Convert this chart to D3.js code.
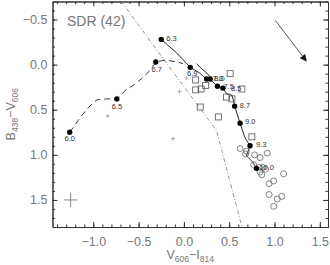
<!DOCTYPE html>
<html>
<head>
<meta charset="utf-8">
<script src="https://cdnjs.cloudflare.com/ajax/libs/d3/7.8.5/d3.min.js"></script>
<style>
  body { margin: 0; background: #fff; }
  svg { display: block; font-family: "Liberation Sans", Arial, sans-serif; }
  .axis path, .axis line { stroke: #333; }
  .axis text { fill: #777; font-size: 12.5px; }
</style>
</head>
<body>
<div id="chart"></div>
<script>
// Step 1.
// Data (x = V606-I814, y = B438-V606)

// filled dots with their log(age) labels
const ageLabels = ["6.0", "6.5", "6.7", "6.3", "6.9", "7.0", "8.0", "7.5", "8.5", "8.7", "9.0", "9.3", "10.0"];
const ageX = [-1.26, -0.74, -0.31, -0.25, 0.07, 0.25, 0.29, 0.37, 0.43, 0.56, 0.62, 0.73, 0.80];
const ageY = [0.75, 0.38, -0.03, -0.28, 0.03, 0.16, 0.16, 0.24, 0.26, 0.46, 0.65, 0.90, 1.15];

// dashed track (young part)
const dashedX = [-1.26, -1.14, -1.05, -0.96, -0.85, -0.74, -0.64, -0.56, -0.46, -0.37, -0.31, -0.21, -0.07, -0.01];
const dashedY = [0.75, 0.58, 0.47, 0.39, 0.38, 0.38, 0.28, 0.23, 0.15, 0.06, -0.03, -0.05, -0.03, -0.01];

// solid track
const solidX = [-0.25, -0.08, 0.07, 0.17, 0.25, 0.29, 0.37, 0.43, 0.47, 0.53, 0.55, 0.56, 0.62, 0.67, 0.71, 0.73, 0.69, 0.76, 0.80];
const solidY = [-0.28, -0.13, 0.03, 0.09, 0.16, 0.16, 0.24, 0.26, 0.32, 0.34, 0.41, 0.46, 0.65, 0.80, 0.87, 0.90, 1.01, 1.08, 1.15];

// short solid hook next to 6.9 - 7.0
const hookX = [0.14, 0.19, 0.26, 0.30];
const hookY = [-0.01, 0.04, 0.10, 0.15];

// dash-dot line
const dashDotX = [-0.69, -0.18, 0.36, 0.64];
const dashDotY = [-0.70, 0.00, 0.73, 1.80];

// reddening arrow
const arrowX = [1.01, 1.35];
const arrowY = [-0.49, -0.04];

// open squares
const squareX = [0.51, 0.13, 0.24, 0.13, 0.19, 0.64, 0.47, 0.53, 0.18, 0.38, 0.75];
const squareY = [0.10, 0.17, 0.23, 0.28, 0.27, 0.27, 0.36, 0.38, 0.47, 0.58, 0.80];

// open circles
const circleX = [0.62, 0.69, 0.68, 0.78, 0.84, 0.92, 0.77, 0.83, 0.87, 0.90, 0.84, 0.86, 1.10, 0.94, 0.99, 0.94, 1.03, 1.08, 0.99];
const circleY = [0.93, 0.96, 0.99, 1.00, 1.03, 0.98, 1.11, 1.14, 1.14, 1.16, 1.19, 1.22, 1.21, 1.32, 1.29, 1.44, 1.49, 1.46, 1.57];

// small plus markers
const plusX = [-0.84, 0.03, -0.05, -0.12];
const plusY = [0.57, 0.15, 0.30, 0.82];

// typical error bar
const errX = [-1.25];
const errY = [1.50];
const errDX = [0.075];
const errDY = [0.08];

const xMajor = [-1.0, -0.5, 0.0, 0.5, 1.0, 1.5];
const yMajor = [-0.5, 0.0, 0.5, 1.0, 1.5];

// Step 2.
// SVG and scales
const svgWidth = 330;
const svgHeight = 265;
const box = { left: 52.5, right: 328, top: 1.5, bottom: 227 };

const svg = d3.select("#chart")
  .append("svg")
  .attr("width", svgWidth)
  .attr("height", svgHeight);

const x = d3.scaleLinear().domain([-1.45, 1.59]).range([box.left, box.right]);
const y = d3.scaleLinear().domain([-0.7, 1.8]).range([box.top, box.bottom]);

const fmt = d3.format(".1f");
const xMinor = d3.range(-14, 16).map(d => d / 10);
const yMinor = d3.range(-7, 18).map(d => d / 10);

// major axes with labels (ticks point inward)
svg.append("g")
  .attr("class", "axis")
  .attr("transform", `translate(0, ${box.bottom})`)
  .call(d3.axisBottom(x).tickValues(xMajor).tickFormat(fmt).tickSize(-5).tickSizeOuter(0).tickPadding(10));

svg.append("g")
  .attr("class", "axis")
  .attr("transform", `translate(${box.left}, 0)`)
  .call(d3.axisLeft(y).tickValues(yMajor).tickFormat(fmt).tickSize(-5).tickSizeOuter(0).tickPadding(5));

svg.append("g")
  .attr("class", "axis")
  .attr("transform", `translate(0, ${box.top})`)
  .call(d3.axisTop(x).tickValues(xMajor).tickFormat("").tickSize(-5).tickSizeOuter(0));

svg.append("g")
  .attr("class", "axis")
  .attr("transform", `translate(${box.right}, 0)`)
  .call(d3.axisRight(y).tickValues(yMajor).tickFormat("").tickSize(-5).tickSizeOuter(0));

// minor ticks
svg.append("g").attr("class", "axis").attr("transform", `translate(0, ${box.bottom})`)
  .call(d3.axisBottom(x).tickValues(xMinor).tickFormat("").tickSize(-2.5).tickSizeOuter(0));
svg.append("g").attr("class", "axis").attr("transform", `translate(0, ${box.top})`)
  .call(d3.axisTop(x).tickValues(xMinor).tickFormat("").tickSize(-2.5).tickSizeOuter(0));
svg.append("g").attr("class", "axis").attr("transform", `translate(${box.left}, 0)`)
  .call(d3.axisLeft(y).tickValues(yMinor).tickFormat("").tickSize(-2.5).tickSizeOuter(0));
svg.append("g").attr("class", "axis").attr("transform", `translate(${box.right}, 0)`)
  .call(d3.axisRight(y).tickValues(yMinor).tickFormat("").tickSize(-2.5).tickSizeOuter(0));

// Step 3.
// lines
const line = d3.line().x(d => x(d[0])).y(d => y(d[1]));

svg.append("path")
  .datum(d3.zip(dashDotX, dashDotY))
  .attr("d", line)
  .attr("fill", "none")
  .attr("stroke", "#888")
  .attr("stroke-width", 0.9)
  .attr("stroke-dasharray", "4,2,1,2");

svg.append("path")
  .datum(d3.zip(dashedX, dashedY))
  .attr("d", line)
  .attr("fill", "none")
  .attr("stroke", "#222")
  .attr("stroke-width", 0.9)
  .attr("stroke-dasharray", "6,4");

svg.append("path")
  .datum(d3.zip(solidX, solidY))
  .attr("d", line)
  .attr("fill", "none")
  .attr("stroke", "#111")
  .attr("stroke-width", 0.9);

svg.append("path")
  .datum(d3.zip(hookX, hookY))
  .attr("d", line)
  .attr("fill", "none")
  .attr("stroke", "#111")
  .attr("stroke-width", 0.9);

// arrow
svg.append("defs").append("marker")
  .attr("id", "head")
  .attr("viewBox", "0 0 10 10")
  .attr("refX", 9)
  .attr("refY", 5)
  .attr("markerWidth", 7)
  .attr("markerHeight", 7)
  .attr("markerUnits", "userSpaceOnUse")
  .attr("orient", "auto")
  .append("path")
  .attr("d", "M0,0 L10,5 L0,10 Z")
  .attr("fill", "#111");

svg.append("path")
  .datum(d3.zip(arrowX, arrowY))
  .attr("d", line)
  .attr("stroke", "#444")
  .attr("stroke-width", 0.9)
  .attr("marker-end", "url(#head)");

// Step 4.
// markers
svg.selectAll(".sq")
  .data(d3.zip(squareX, squareY))
  .enter()
  .append("rect")
  .attr("class", "sq")
  .attr("x", d => x(d[0]) - 3)
  .attr("y", d => y(d[1]) - 3)
  .attr("width", 6)
  .attr("height", 6)
  .attr("fill", "none")
  .attr("stroke", "#555")
  .attr("stroke-width", 0.8);

svg.selectAll(".oc")
  .data(d3.zip(circleX, circleY))
  .enter()
  .append("circle")
  .attr("class", "oc")
  .attr("cx", d => x(d[0]))
  .attr("cy", d => y(d[1]))
  .attr("r", 3)
  .attr("fill", "none")
  .attr("stroke", "#666")
  .attr("stroke-width", 0.8);

const plusPath = (cx, cy, a) => `M${cx - a},${cy}H${cx + a}M${cx},${cy - a}V${cy + a}`;

svg.selectAll(".plus")
  .data(d3.zip(plusX, plusY))
  .enter()
  .append("path")
  .attr("class", "plus")
  .attr("d", d => plusPath(x(d[0]), y(d[1]), 2))
  .attr("stroke", "#999")
  .attr("stroke-width", 0.8);

svg.selectAll(".err")
  .data(d3.zip(errX, errY, errDX, errDY))
  .enter()
  .append("path")
  .attr("class", "err")
  .attr("d", d => `M${x(d[0] - d[2])},${y(d[1])}H${x(d[0] + d[2])}M${x(d[0])},${y(d[1] - d[3])}V${y(d[1] + d[3])}`)
  .attr("stroke", "#888")
  .attr("stroke-width", 1);

// filled age dots
svg.selectAll(".age")
  .data(d3.zip(ageX, ageY))
  .enter()
  .append("circle")
  .attr("class", "age")
  .attr("cx", d => x(d[0]))
  .attr("cy", d => y(d[1]))
  .attr("r", 2.7)
  .attr("fill", "#000");

// label offsets in px: dx, dy, anchor
const labelOffset = {
  "6.0": [0, 9, "middle"], "6.5": [0, 10, "middle"], "6.7": [1, 10, "middle"],
  "6.3": [5, 2, "start"], "6.9": [2, 9, "middle"], "7.0": [6, 2, "start"],
  "8.0": [4, 2, "start"], "7.5": [6, 3, "start"], "8.5": [8, 3, "start"],
  "8.7": [5, 2, "start"], "9.0": [5, 1, "start"], "9.3": [6, 1, "start"],
  "10.0": [3, 2, "start"]
};

svg.selectAll(".ageText")
  .data(ageLabels)
  .enter()
  .append("text")
  .attr("class", "ageText")
  .attr("x", (d, i) => x(ageX[i]) + labelOffset[d][0])
  .attr("y", (d, i) => y(ageY[i]) + labelOffset[d][1])
  .attr("text-anchor", d => labelOffset[d][2])
  .attr("font-size", 7.5)
  .attr("fill", "#333")
  .text(d => d);

// Step 5.
// titles
svg.append("text")
  .attr("x", 67)
  .attr("y", 25.5)
  .attr("font-size", 14)
  .attr("fill", "#777")
  .text("SDR (42)");

const xLabel = svg.append("text")
  .attr("x", (box.left + box.right) / 2)
  .attr("y", 259)
  .attr("text-anchor", "middle")
  .attr("font-size", 12.5)
  .attr("fill", "#777");
xLabel.append("tspan").text("V");
xLabel.append("tspan").attr("font-size", 8.5).attr("dy", 3).text("606");
xLabel.append("tspan").attr("dy", -3).text("−I");
xLabel.append("tspan").attr("font-size", 8.5).attr("dy", 3).text("814");

const yLabel = svg.append("text")
  .attr("transform", `translate(15, ${(box.top + box.bottom) / 2}) rotate(-90)`)
  .attr("text-anchor", "middle")
  .attr("font-size", 12.5)
  .attr("fill", "#777");
yLabel.append("tspan").text("B");
yLabel.append("tspan").attr("font-size", 8.5).attr("dy", 3).text("438");
yLabel.append("tspan").attr("dy", -3).text("−V");
yLabel.append("tspan").attr("font-size", 8.5).attr("dy", 3).text("606");
</script>
</body>
</html>
